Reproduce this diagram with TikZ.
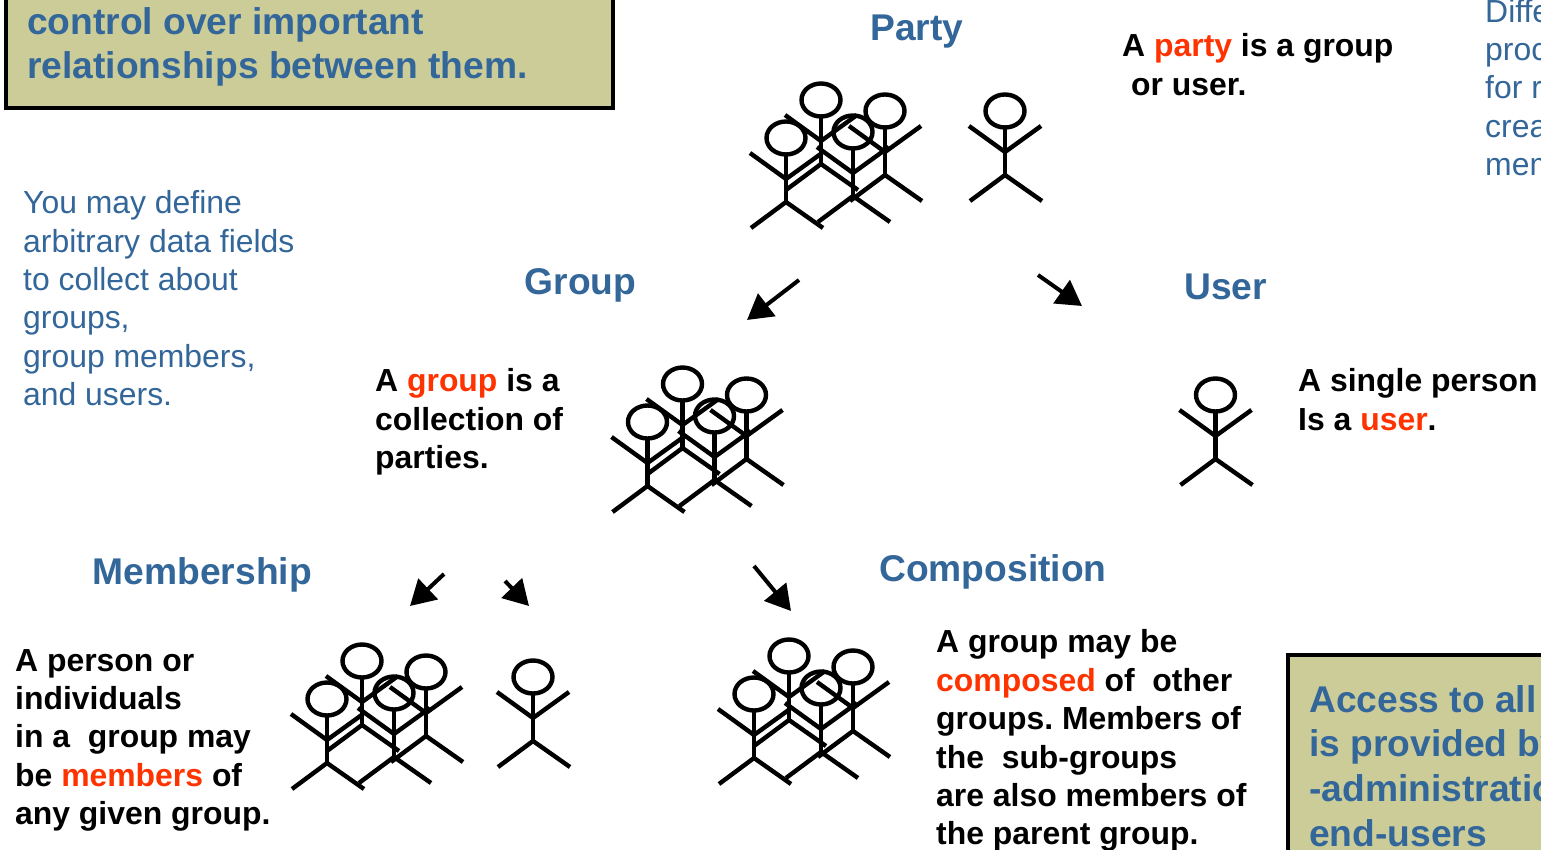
\documentclass[tikz,border=0pt]{standalone}
\usepackage{fontspec}
\setmainfont{Liberation Sans}
\usetikzlibrary{arrows.meta}
\definecolor{headblue}{RGB}{51,102,153}
\definecolor{khaki}{RGB}{204,204,153}
\definecolor{redword}{RGB}{255,51,0}
\newcommand{\rw}[1]{\textcolor{redword}{#1}}
\frenchspacing
\tikzset{
  x=1pt,y=-1pt,
  heading/.style={anchor=west,inner sep=0pt,font=\fontsize{37.2}{37.2}\selectfont\bfseries,text=headblue},
  bodytext/.style={anchor=north west,inner sep=0pt,align=left,font=\fontsize{31.9}{38.4}\selectfont\bfseries},
  bluetext/.style={anchor=north west,inner sep=0pt,align=left,font=\fontsize{31.9}{38.3}\selectfont,text=headblue},
  boxtext/.style={anchor=north west,inner sep=0pt,align=left,font=\fontsize{37.2}{44.7}\selectfont\bfseries,text=headblue},
  khakibox/.style={draw=black,line width=4pt,fill=khaki},
  stick/.style={draw=black,line width=4.4pt,line cap=butt,line join=miter},
  flow/.style={draw=black,line width=4pt,-{Triangle[length=25pt,width=28pt]},shorten >=0pt},
  person/.pic={
    \draw[stick] (0,0) ellipse[x radius=19.5,y radius=16.5];
    \draw[stick] (0,16.5) -- (0,64);
    \draw[stick] (-36,15) -- (0,41) -- (36,15);
    \draw[stick] (-35,90) -- (0,64) -- (37,90);
  },
  crowd/.pic={
    \pic at (-35,27) {person};
    \pic at (0,-11) {person};
    \pic at (32,21) {person};
    \pic at (64,0) {person};
  }
}
\begin{document}
\begin{tikzpicture}
\useasboundingbox (0,0) rectangle (1541,850);
\clip (0,0) rectangle (1541,850);

% boxes
\draw[khakibox] (6,-10) rectangle (613,108);
\draw[khakibox] (1287.5,655) rectangle (1560,870);
\node[boxtext] (boxa) at (27,7) {control over important\\relationships between them.};
\node[boxtext] (boxb) at (1309,685) {Access to all\\is provided by\\-administration\\end-users};

% headings
\node[heading] (party) at (870,32) {Party};
\node[heading] (group) at (524.5,285) {Group};
\node[heading] (user) at (1184,287) {User};
\node[heading] (membership) at (92.5,575) {Membership};
\node[heading] (composition) at (879,572) {Composition};

% texts
\node[bodytext] (ta) at (1122,33.5) {A \rw{party} is a group\\\hspace{9pt}or user.};
\node[bluetext] (tb) at (1485,-1) {Different\\process\\for r\\crea\\mem};
\node[bluetext] (tc) at (23,190.5) {You may define\\arbitrary data fields\\to collect about\\groups,\\group members,\\and users.};
\node[bodytext] (td) at (375,368.5) {A \rw{group} is a\\collection of\\parties.};
\node[bodytext] (te) at (1298,368.5) {A single person\\Is a \rw{user}.};
\node[bodytext] (tf) at (15,649) {A person or\\individuals\\in a\ \ group may\\be \rw{members} of\\any given group.};
\node[bodytext] (tg) at (936,629.5) {A group may be\\\rw{composed} of\ \ other\\groups. Members of\\the\ \ sub-groups\\are also members of\\the parent group.};

% figures
\pic at (821,111) {crowd};
\pic at (1005,111) {person};
\pic at (682.5,395) {crowd};
\pic at (1215.5,395) {person};
\pic at (362,672) {crowd};
\pic at (533,677) {person};
\pic at (789,667) {crowd};

% arrows
\coordinate (a1s) at (799,280); \coordinate (a1e) at (747,320);
\coordinate (a2s) at (1038,275); \coordinate (a2e) at (1082,306);
\coordinate (a3s) at (444,574); \coordinate (a3e) at (410,606);
\coordinate (a4s) at (505,581); \coordinate (a4e) at (529,606);
\coordinate (a5s) at (754,566); \coordinate (a5e) at (791,611);
\draw[flow] (a1s) -- (a1e);
\draw[flow] (a2s) -- (a2e);
\draw[flow] (a3s) -- (a3e);
\draw[flow] (a4s) -- (a4e);
\draw[flow] (a5s) -- (a5e);
\end{tikzpicture}
\end{document}
